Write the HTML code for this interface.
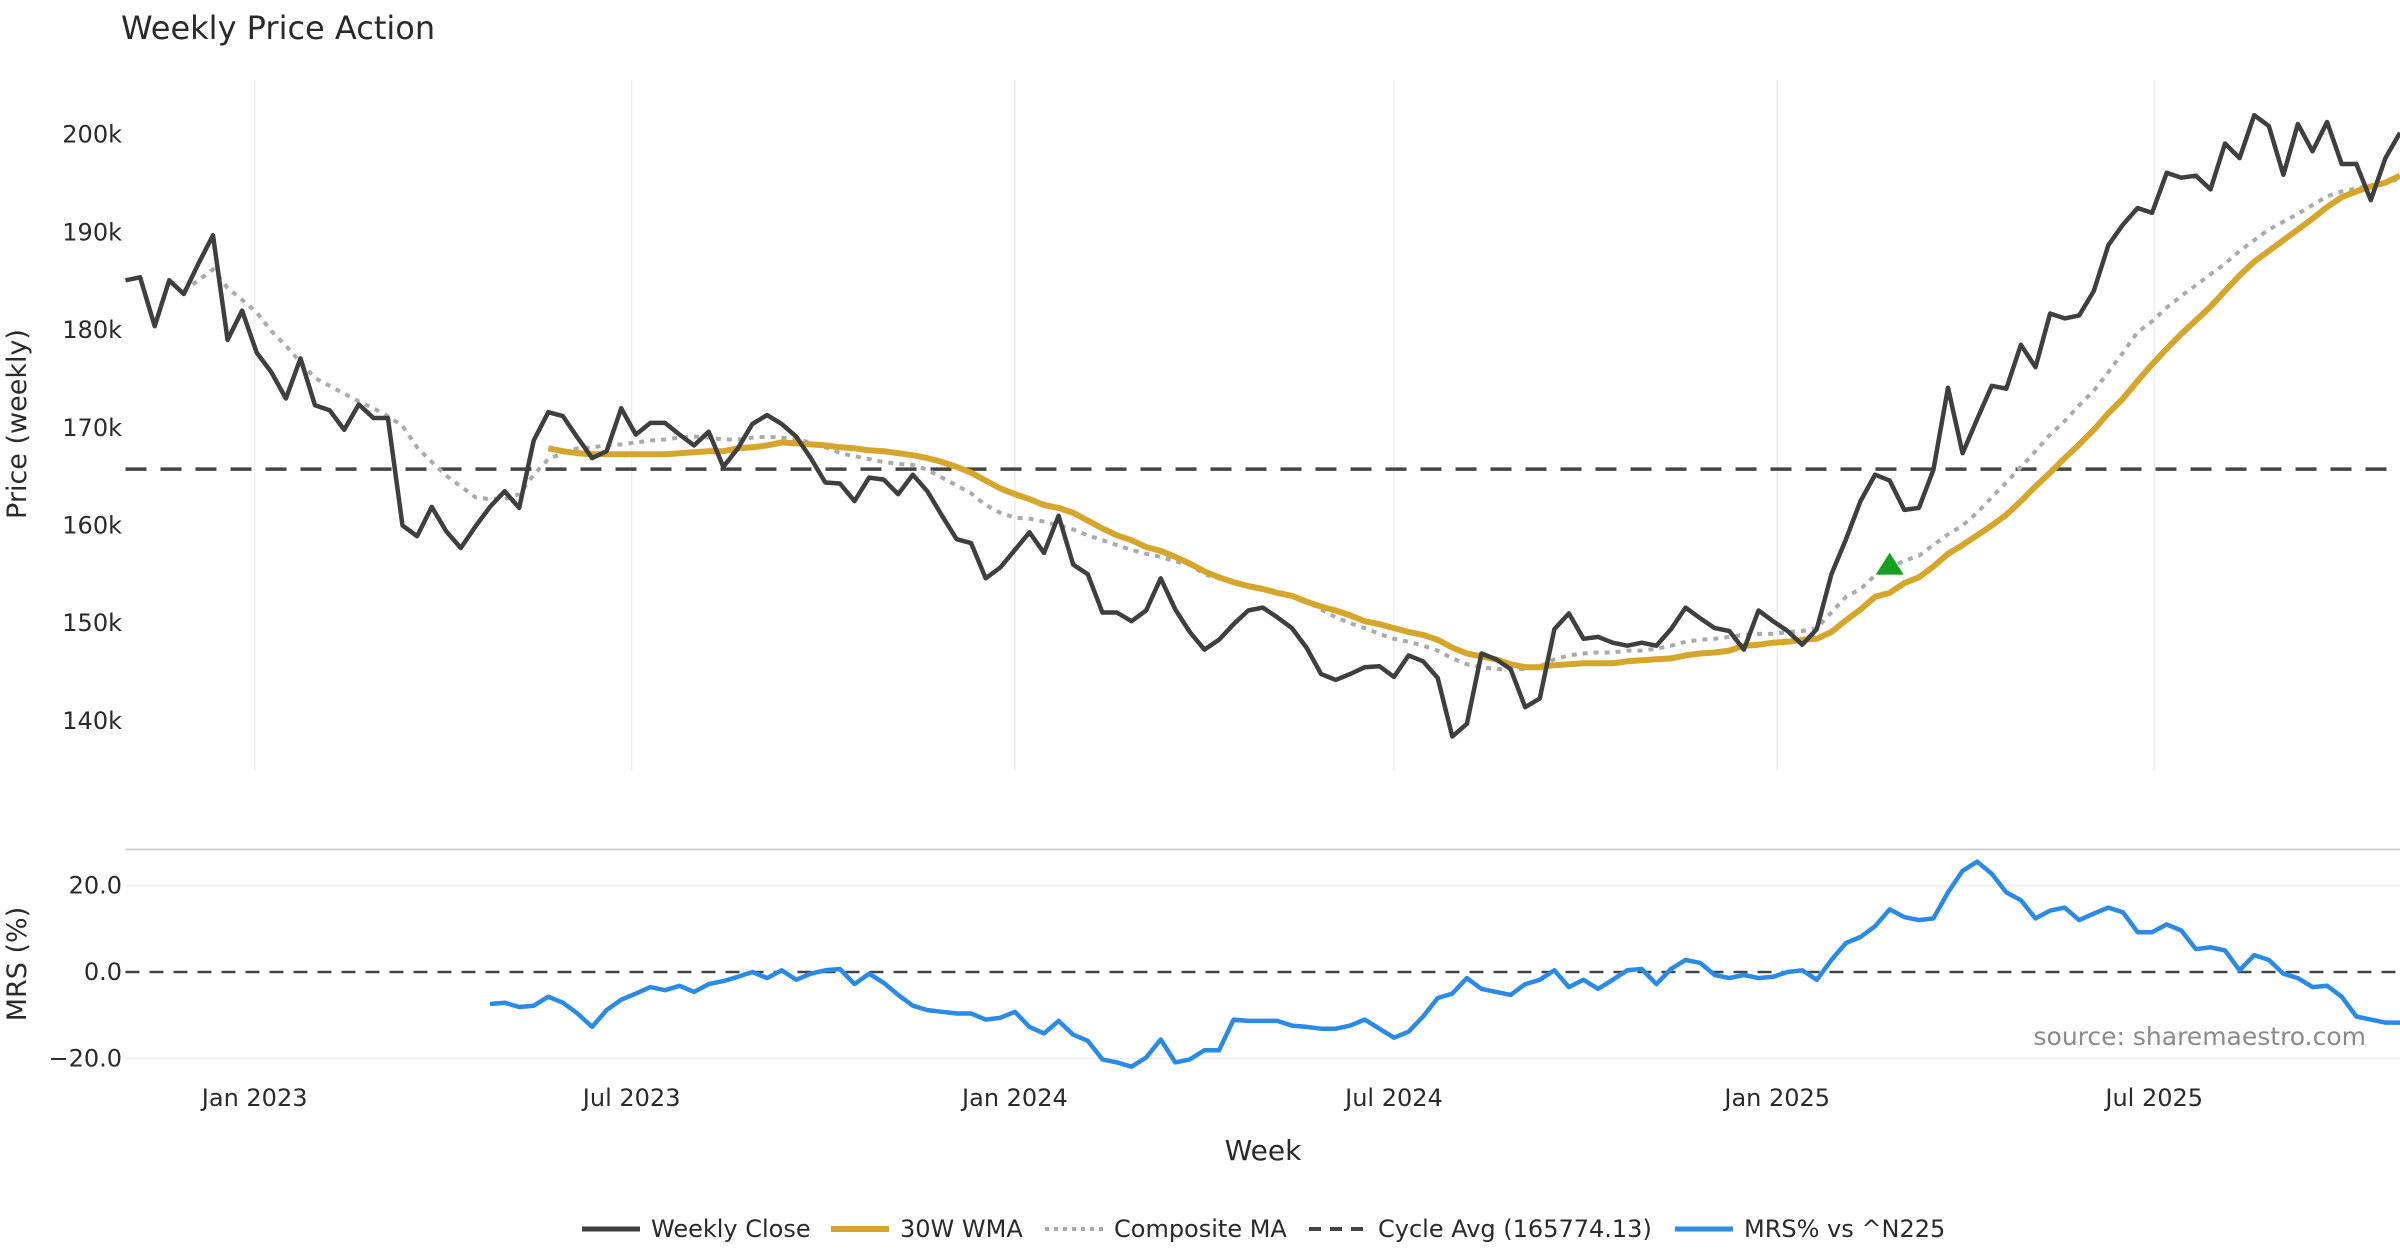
<!DOCTYPE html>
<html><head><meta charset="utf-8"><title>Weekly Price Action</title>
<style>
html,body{margin:0;padding:0;background:#fff;}
svg{display:block;font-family:"DejaVu Sans","Liberation Sans",sans-serif;}
</style></head>
<body>
<svg id="chart" width="2400" height="1260" viewBox="0 0 2400 1260" xmlns="http://www.w3.org/2000/svg">
<rect width="2400" height="1260" fill="#fff"/>
<text x="121" y="39" font-size="32" fill="#2a2a2a">Weekly Price Action</text>
<text transform="translate(26,424) rotate(-90)" text-anchor="middle" font-size="27" fill="#2a2a2a">Price (weekly)</text>
<text transform="translate(26,964) rotate(-90)" text-anchor="middle" font-size="27" fill="#2a2a2a">MRS (%)</text>
<text x="1263" y="1160" text-anchor="middle" font-size="28" fill="#2a2a2a">Week</text>
<text x="2366" y="1045" text-anchor="end" font-size="25" fill="#8a8a8a">source: sharemaestro.com</text>
<g id="grid"></g><g id="axes"></g><g id="series"></g><g id="legend"></g>
</svg>
<script>
const startDate = "2022-10-31";
const tickDates = ["2023-01-01","2023-07-01","2024-01-01","2024-07-01","2025-01-01","2025-07-01"];
const tickLabels = ["Jan 2023","Jul 2023","Jan 2024","Jul 2024","Jan 2025","Jul 2025"];
const priceTicks = [140,150,160,170,180,190,200];
const priceTickLabels = ["140k","150k","160k","170k","180k","190k","200k"];
const mrsTicks = [-20,0,20];
const mrsTickLabels = ["\u221220.0","0.0","20.0"];
const cycleAvg = 165.77413;
const closeStart = 0;
const weeklyClose = [185.1,185.4,180.4,185.1,183.7,186.8,189.7,179.0,182.0,177.7,175.7,173.0,177.1,172.3,171.8,169.8,172.4,171.0,171.0,160.0,158.9,161.9,159.4,157.7,159.9,161.9,163.5,161.8,168.7,171.6,171.2,169.0,166.9,167.6,172.0,169.3,170.5,170.5,169.3,168.2,169.6,166.0,167.9,170.4,171.3,170.4,169.1,166.9,164.4,164.3,162.5,164.9,164.7,163.2,165.2,163.5,161.0,158.6,158.2,154.6,155.7,157.5,159.3,157.2,161.0,156.0,155.0,151.1,151.1,150.2,151.3,154.6,151.4,149.1,147.3,148.3,149.9,151.3,151.6,150.6,149.5,147.5,144.8,144.2,144.8,145.5,145.6,144.5,146.7,146.1,144.4,138.4,139.7,146.9,146.3,145.3,141.4,142.3,149.4,151.0,148.4,148.6,148.0,147.7,148.0,147.7,149.4,151.6,150.5,149.5,149.2,147.3,151.3,150.2,149.2,147.8,149.4,155.0,158.6,162.5,165.2,164.6,161.6,161.8,165.7,174.1,167.4,170.9,174.3,174.0,178.5,176.2,181.7,181.2,181.5,184.0,188.7,190.8,192.5,192.0,196.1,195.6,195.8,194.4,199.1,197.6,202.0,200.9,195.9,201.1,198.3,201.3,197.0,197.0,193.3,197.6,200.2];
const wmaStart = 29;
const wma30 = [167.9,167.6,167.4,167.3,167.3,167.3,167.3,167.3,167.3,167.4,167.5,167.6,167.6,167.9,168.0,168.2,168.5,168.4,168.3,168.2,168.0,167.9,167.7,167.6,167.4,167.2,166.9,166.5,166.0,165.4,164.6,163.8,163.2,162.7,162.1,161.8,161.3,160.5,159.7,159.0,158.5,157.8,157.4,156.8,156.1,155.3,154.7,154.2,153.8,153.5,153.1,152.8,152.2,151.7,151.3,150.8,150.2,149.9,149.5,149.1,148.8,148.3,147.5,146.9,146.6,146.3,145.8,145.5,145.5,145.7,145.8,145.9,145.9,145.9,146.1,146.2,146.3,146.4,146.7,146.9,147.0,147.2,147.7,147.8,148.0,148.1,148.3,148.4,149.1,150.3,151.4,152.7,153.1,154.1,154.7,155.8,157.1,158.0,159.0,160.0,161.1,162.5,164.0,165.4,166.9,168.3,169.8,171.5,173.0,174.8,176.5,178.1,179.6,181.0,182.4,184.0,185.6,187.0,188.1,189.2,190.3,191.4,192.6,193.6,194.2,194.7,195.1,195.8];
const compStart = 4;
const compositeMA = [184.0,185.1,186.2,184.3,183.1,181.8,179.9,178.4,176.7,175.1,174.3,173.5,172.7,172.0,171.2,170.2,168.0,166.5,165.1,164.0,162.9,162.7,162.7,163.2,165.2,166.8,167.4,167.9,168.0,168.2,168.3,168.5,168.7,168.8,169.0,169.1,169.0,168.8,168.8,169.0,169.1,169.0,168.8,168.5,168.0,167.4,167.1,166.8,166.5,166.3,166.2,165.7,164.9,164.1,163.3,162.1,161.3,160.8,160.7,160.4,160.0,159.6,159.0,158.5,158.0,157.5,157.1,156.8,156.3,156.0,155.0,154.6,154.1,153.8,153.5,153.3,152.8,152.2,151.4,150.6,150.0,149.5,148.9,148.4,148.1,147.7,147.2,146.4,145.8,145.5,145.3,145.3,145.3,145.6,146.3,146.7,146.9,147.0,147.0,147.2,147.2,147.4,147.7,148.1,148.3,148.4,148.6,148.8,148.9,148.9,149.1,149.2,149.5,151.1,152.7,153.5,154.9,155.7,156.4,156.9,158.0,159.1,160.0,161.3,162.9,164.4,166.0,167.6,169.3,170.7,172.3,173.8,175.7,177.7,179.8,180.9,182.3,183.5,184.6,185.7,186.8,188.1,189.2,190.3,191.1,191.9,192.8,193.7,194.2,194.5,194.8,195.1,195.5];
const mrsStart = 25;
const mrsValues = [-7.4,-7.1,-8.1,-7.8,-5.7,-7.1,-9.6,-12.7,-8.8,-6.4,-5.0,-3.5,-4.2,-3.2,-4.6,-2.8,-2.1,-1.1,0,-1.4,0.4,-1.8,-0.4,0.4,0.7,-2.8,-0.4,-2.5,-5.3,-7.8,-8.8,-9.2,-9.6,-9.6,-11.0,-10.6,-9.2,-12.7,-14.2,-11.3,-14.5,-15.9,-20.2,-20.9,-21.9,-19.8,-15.6,-20.9,-20.2,-18.1,-18.1,-11.0,-11.3,-11.3,-11.3,-12.4,-12.7,-13.1,-13.1,-12.4,-11.0,-13.1,-15.2,-13.8,-10.3,-6.0,-5.0,-1.4,-3.9,-4.6,-5.3,-2.8,-1.8,0.4,-3.5,-1.8,-3.9,-1.8,0.4,0.7,-2.8,0.7,2.8,2.1,-0.7,-1.4,-0.7,-1.4,-1.1,0,0.4,-1.8,2.8,6.7,8.1,10.6,14.5,12.7,12.0,12.4,18.4,23.4,25.5,22.7,18.4,16.6,12.4,14.2,14.9,12.0,13.5,14.9,13.8,9.2,9.2,11.0,9.6,5.3,5.7,5.0,0.4,3.9,2.8,-0.4,-1.4,-3.5,-3.2,-5.7,-10.3,-11.0,-11.7,-11.7];
const signalWeeks = [121];
const signalPrices = [156.0];

const NS="http://www.w3.org/2000/svg";
const L=125.5,R=2400,PT=80,PB=770;
const DAY=86400000, t0=Date.parse(startDate);
const pxPerDay=(R-L)/(156*7);
function xDate(s){return L+(Date.parse(s)-t0)/DAY*pxPerDay;}
function xWeek(i){return L+i*7*pxPerDay;}
function yPrice(v){return 134.7+(200-v)*9.77;}
function yMrs(v){return 972-v*4.325;}
function mk(tag,attrs,parent){const e=document.createElementNS(NS,tag);for(const k in attrs)e.setAttribute(k,attrs[k]);parent.appendChild(e);return e;}
const grid=document.getElementById('grid'),axes=document.getElementById('axes'),ser=document.getElementById('series'),leg=document.getElementById('legend');

tickDates.forEach((d,i)=>{
  const x=xDate(d);
  const g=mk('line',{x1:x,x2:x,y1:PT,y2:PB,stroke:'#eceef3','stroke-width':1.5},grid);
  
  
  const t=mk('text',{x:x,y:1106,'text-anchor':'middle','font-size':24,fill:'#2a2a2a'},axes);
  t.textContent=tickLabels[i];
  
  
});
priceTicks.forEach((v,i)=>{
  const t=mk('text',{x:122,y:yPrice(v)+8,'text-anchor':'end','font-size':24,fill:'#2a2a2a'},axes);
  t.textContent=priceTickLabels[i];
  
  
});
const sep=mk('line',{x1:L,x2:R,y1:849.5,y2:849.5,stroke:'#cfcfcf','stroke-width':2},grid);


mrsTicks.forEach((v,i)=>{
  if(v!==0){const g=mk('line',{x1:L,x2:R,y1:yMrs(v),y2:yMrs(v),stroke:'#eceef3','stroke-width':1.5},grid);
    
    }
  const t=mk('text',{x:122,y:yMrs(v)+8,'text-anchor':'end','font-size':24,fill:'#2a2a2a'},axes);
  t.textContent=mrsTickLabels[i];
  
  
});
const cyc=mk('line',{x1:L,x2:R,y1:yPrice(cycleAvg),y2:yPrice(cycleAvg),stroke:'#444','stroke-width':3.5,'stroke-dasharray':'21 14'},ser);


const zero=mk('line',{x1:L,x2:R,y1:yMrs(0),y2:yMrs(0),stroke:'#444','stroke-width':2.5,'stroke-dasharray':'14 10'},ser);



function pathOf(arr,start,yf){return arr.map((v,i)=>(i?'L':'M')+xWeek(start+i).toFixed(1)+','+yf(v).toFixed(1)).join(' ');}
const cp=mk('path',{d:pathOf(compositeMA,compStart,yPrice),fill:'none',stroke:'#aaaaaa','stroke-width':4,'stroke-dasharray':'5 6'},ser);


const wp=mk('path',{d:pathOf(wma30,wmaStart,yPrice),fill:'none',stroke:'#d6a52b','stroke-width':6,'stroke-linejoin':'round'},ser);


const clp=mk('path',{d:pathOf(weeklyClose,closeStart,yPrice),fill:'none',stroke:'#3f3f3f','stroke-width':4.5,'stroke-linejoin':'round'},ser);


const mp=mk('path',{d:pathOf(mrsValues,mrsStart,yMrs),fill:'none',stroke:'#2a8ae6','stroke-width':4.5,'stroke-linejoin':'round'},ser);


signalWeeks.forEach((w,i)=>{
  const x=xWeek(w),y=yPrice(signalPrices[i]);
  const tr=mk('path',{d:`M${x-14},${y+10} L${x+14},${y+10} L${x},${y-12} Z`,fill:'#14a01e'},ser);
  
  
});

const legendItems=[
 {label:'Weekly Close',x:582,stroke:'#3f3f3f',w:5,dash:null,name:'legend-weekly-close'},
 {label:'30W WMA',x:831,stroke:'#d6a52b',w:6,dash:null,name:'legend-wma'},
 {label:'Composite MA',x:1045,stroke:'#aaaaaa',w:4,dash:'4 5',name:'legend-composite-ma'},
 {label:'Cycle Avg (165774.13)',x:1309,stroke:'#444',w:4,dash:'12 9',name:'legend-cycle-avg'},
 {label:'MRS% vs ^N225',x:1675,stroke:'#2a8ae6',w:5,dash:null,name:'legend-mrs'}
];
legendItems.forEach(it=>{
  const g=mk('g',{},leg);
  
  
  const a={x1:it.x,x2:it.x+58,y1:1229,y2:1229,stroke:it.stroke,'stroke-width':it.w};
  if(it.dash)a['stroke-dasharray']=it.dash;
  mk('line',a,g);
  const t=mk('text',{x:it.x+69,y:1237,'font-size':24,fill:'#2a2a2a'},g);
  t.textContent=it.label;
});
</script>
</body></html>
